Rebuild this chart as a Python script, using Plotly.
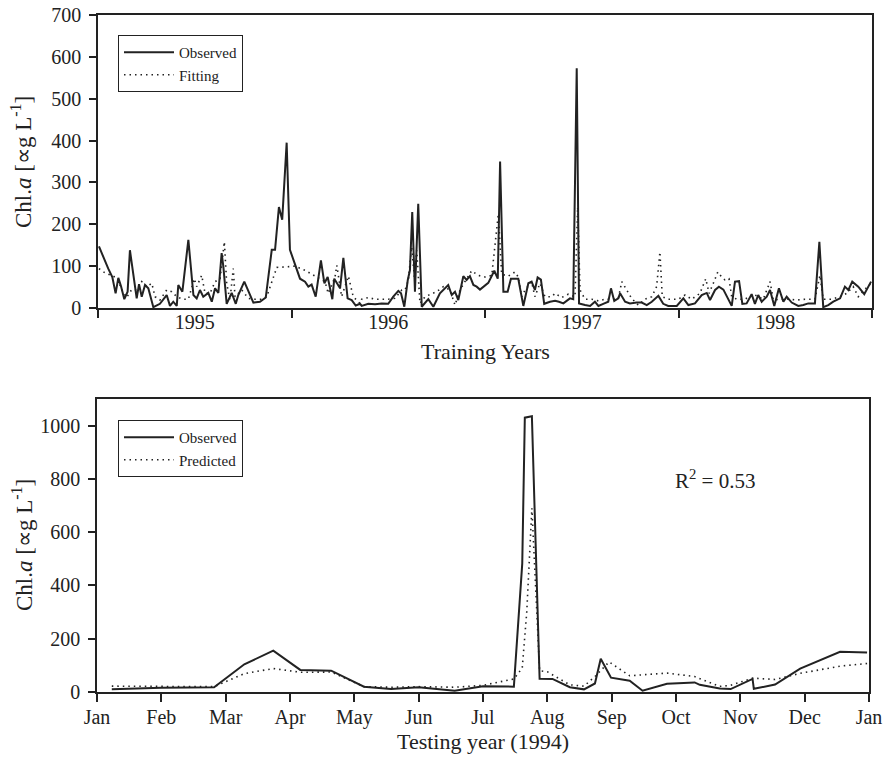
import plotly.graph_objects as go

# ---------------- data: training period (decimal years) ----------------
train_obs_t = [1994.505, 1994.527, 1994.553, 1994.574, 1994.591, 1994.605, 1994.619, 1994.636, 1994.653, 1994.665,
               1994.700, 1994.712, 1994.726, 1994.743, 1994.760, 1994.786, 1994.820, 1994.855, 1994.872, 1994.889,
               1994.907, 1994.915, 1994.936, 1994.967, 1994.993, 1995.010, 1995.027, 1995.044, 1995.070, 1995.088,
               1995.105, 1995.122, 1995.139, 1995.148, 1995.165, 1995.191, 1995.212, 1995.225, 1995.256, 1995.303,
               1995.337, 1995.367, 1995.398, 1995.415, 1995.435, 1995.452, 1995.475, 1995.492, 1995.518, 1995.544,
               1995.570, 1995.587, 1995.604, 1995.625, 1995.652, 1995.670, 1995.687, 1995.711, 1995.721, 1995.751,
               1995.768, 1995.790, 1995.811, 1995.832, 1995.854, 1995.863, 1995.897, 1995.932, 1995.966, 1996.000,
               1996.026, 1996.052, 1996.066, 1996.083, 1996.101, 1996.112, 1996.124, 1996.138, 1996.155, 1996.173,
               1996.207, 1996.233, 1996.267, 1996.310, 1996.328, 1996.345, 1996.362, 1996.388, 1996.405, 1996.422,
               1996.440, 1996.457, 1996.474, 1996.517, 1996.548, 1996.566, 1996.578, 1996.595, 1996.617, 1996.634,
               1996.672, 1996.698, 1996.724, 1996.741, 1996.758, 1996.772, 1996.789, 1996.806, 1996.836, 1996.862,
               1996.882, 1996.905, 1996.939, 1996.956, 1996.974, 1996.986, 1997.017, 1997.043, 1997.068, 1997.086,
               1997.111, 1997.137, 1997.151, 1997.168, 1997.189, 1997.198, 1997.224, 1997.249, 1997.284, 1997.310,
               1997.336, 1997.362, 1997.396, 1997.421, 1997.447, 1997.491, 1997.525, 1997.551, 1997.585, 1997.620,
               1997.646, 1997.663, 1997.689, 1997.709, 1997.732, 1997.757, 1997.775, 1997.792, 1997.813, 1997.830,
               1997.852, 1997.878, 1997.895, 1997.912, 1997.930, 1997.956, 1997.973, 1997.995, 1998.019, 1998.042,
               1998.059, 1998.085, 1998.119, 1998.145, 1998.171, 1998.205, 1998.228, 1998.248, 1998.274, 1998.300,
               1998.335, 1998.360, 1998.378, 1998.398, 1998.429, 1998.460, 1998.495]
train_obs_v = [147, 122, 94, 74, 35, 72, 52, 21, 39, 138,
               23, 57, 27, 55, 47, 2, 10, 31, 5, 15,
               5, 55, 39, 163, 31, 23, 43, 27, 36, 15,
               47, 36, 131, 98, 10, 36, 10, 31, 63, 13,
               15, 25, 139, 139, 241, 211, 395, 139, 106, 70,
               63, 51, 56, 27, 114, 59, 74, 21, 70, 47,
               120, 23, 19, 6, 10, 5, 10, 9, 11, 10,
               27, 41, 35, 3, 67, 90, 229, 39, 249, 3,
               21, 3, 35, 55, 31, 39, 19, 76, 67, 76,
               55, 51, 44, 60, 89, 70, 350, 39, 39, 70,
               70, 5, 59, 63, 43, 73, 68, 10, 15, 17,
               15, 11, 23, 21, 573, 11, 7, 5, 15, 5,
               10, 15, 47, 17, 23, 35, 15, 11, 13, 13,
               7, 15, 29, 10, 5, 5, 23, 7, 11, 31,
               36, 19, 43, 51, 44, 23, 5, 63, 64, 10,
               11, 33, 10, 31, 15, 27, 43, 5, 47, 15,
               27, 13, 5, 7, 11, 11, 158, 2, 7, 15,
               23, 51, 43, 63, 51, 33, 63]

train_fit_t = [1994.505, 1994.536, 1994.579, 1994.602, 1994.622, 1994.648, 1994.674, 1994.700, 1994.726, 1994.752,
               1994.778, 1994.795, 1994.820, 1994.855, 1994.881, 1994.907, 1994.936, 1994.967, 1994.998, 1995.010,
               1995.036, 1995.053, 1995.079, 1995.105, 1995.131, 1995.153, 1995.165, 1995.182, 1995.199, 1995.208,
               1995.243, 1995.277, 1995.311, 1995.346, 1995.372, 1995.398, 1995.424, 1995.466, 1995.518, 1995.570,
               1995.621, 1995.673, 1995.690, 1995.725, 1995.734, 1995.759, 1995.794, 1995.819, 1995.854, 1995.863,
               1995.897, 1995.932, 1995.966, 1996.000, 1996.035, 1996.070, 1996.087, 1996.104, 1996.121, 1996.135,
               1996.147, 1996.164, 1996.190, 1996.216, 1996.250, 1996.285, 1996.319, 1996.345, 1996.371, 1996.405,
               1996.431, 1996.465, 1996.500, 1996.535, 1996.569, 1996.586, 1996.620, 1996.655, 1996.672, 1996.690,
               1996.707, 1996.741, 1996.758, 1996.784, 1996.810, 1996.845, 1996.862, 1996.896, 1996.931, 1996.965,
               1996.979, 1996.991, 1997.017, 1997.051, 1997.086, 1997.120, 1997.155, 1997.189, 1997.207, 1997.258,
               1997.292, 1997.327, 1997.362, 1997.387, 1997.404, 1997.416, 1997.447, 1997.499, 1997.534, 1997.568,
               1997.611, 1997.641, 1997.658, 1997.680, 1997.703, 1997.720, 1997.740, 1997.761, 1997.775, 1997.801,
               1997.844, 1997.887, 1997.912, 1997.938, 1997.973, 1997.990, 1998.025, 1998.067, 1998.111, 1998.154,
               1998.205, 1998.231, 1998.248, 1998.292, 1998.335, 1998.369, 1998.403, 1998.429, 1998.460, 1998.495]
train_fit_v = [94, 84, 76, 70, 44, 25, 44, 43, 63, 51,
               59, 27, 19, 43, 39, 27, 21, 21, 70, 51,
               78, 35, 35, 63, 70, 158, 59, 19, 94, 27,
               43, 23, 21, 21, 27, 63, 97, 98, 100, 90,
               76, 63, 35, 74, 102, 27, 76, 27, 11, 21,
               25, 21, 21, 21, 23, 43, 43, 67, 146, 74,
               138, 11, 27, 33, 39, 51, 43, 7, 43, 70,
               89, 78, 74, 78, 225, 81, 76, 86, 74, 27,
               43, 63, 27, 59, 27, 27, 35, 25, 33, 27,
               241, 43, 21, 21, 17, 21, 21, 23, 63, 23,
               7, 21, 27, 51, 134, 27, 21, 21, 31, 21,
               35, 70, 35, 59, 86, 76, 67, 70, 27, 21,
               21, 33, 27, 21, 63, 19, 21, 21, 19, 21,
               21, 78, 21, 21, 27, 35, 51, 27, 43, 59]

train_year_labels = ["1995", "1996", "1997", "1998"]
train_year_pos = [1995, 1996, 1997, 1998]
train_tick_pos = [1994.5, 1995.5, 1996.5, 1997.5, 1998.5]

# ---------------- data: testing year 1994 (month index, 0 = Jan 1) ----------------
test_obs_m = [0.23, 1.0, 1.82, 2.29, 2.74, 3.16, 3.64, 4.15, 4.57, 5.0, 5.56, 6.0, 6.48, 6.61, 6.65, 6.76, 6.88,
              7.08, 7.35, 7.57, 7.74, 7.83, 7.99, 8.28, 8.48, 8.86, 9.29, 9.37, 9.68, 9.85, 10.19, 10.21,
              10.54, 10.93, 11.55, 11.97]
test_obs_v = [10, 16, 18, 104, 155, 83, 80, 20, 11, 18, 5, 22, 20, 482, 1030, 1035, 50,
              49, 18, 10, 32, 125, 54, 42, 5, 31, 36, 27, 13, 11, 49, 12,
              28, 88, 151, 148]
test_pred_m = [0.23, 1.0, 1.82, 2.29, 2.74, 3.16, 3.64, 4.15, 4.57, 5.0, 5.56, 6.0, 6.48, 6.61, 6.68, 6.76,
               6.88, 7.0, 7.35, 7.57, 7.74, 7.96, 8.28, 8.86, 9.29, 9.68, 9.85, 10.19, 10.54, 10.93, 11.55, 11.97]
test_pred_v = [22, 20, 20, 69, 88, 74, 75, 20, 18, 20, 18, 25, 49, 90, 300, 690,
               80, 76, 27, 22, 58, 113, 61, 71, 58, 21, 25, 52, 47, 70, 97, 107]
month_labels = ["Jan", "Feb", "Mar", "Apr", "May", "Jun", "Jul", "Aug", "Sep", "Oct", "Nov", "Dec", "Jan"]
month_pos = list(range(13))
r2_text = "R<sup>2</sup> = 0.53"

# ---------------- styling ----------------
FONT = "Liberation Serif, Times New Roman, serif"
INK = "#222222"
W, H = 884, 769
L, R, T, B = 97, 12, 15, 77
pw, ph = W - L - R, H - T - B


def px_x(x):
    return (x - L) / pw


def px_y(y):
    return (H - B - y) / ph


obs_line = dict(color=INK, width=2)
fit_line = dict(color=INK, width=1.6, dash="1.5px,4px")

fig = go.Figure()
fig.add_trace(go.Scatter(x=train_obs_t, y=train_obs_v, mode="lines", name="Observed",
                         line=obs_line, xaxis="x", yaxis="y", legend="legend"))
fig.add_trace(go.Scatter(x=train_fit_t, y=train_fit_v, mode="lines", name="Fitting",
                         line=fit_line, xaxis="x", yaxis="y", legend="legend"))
fig.add_trace(go.Scatter(x=test_obs_m, y=test_obs_v, mode="lines", name="Observed",
                         line=obs_line, xaxis="x2", yaxis="y2", legend="legend2"))
fig.add_trace(go.Scatter(x=test_pred_m, y=test_pred_v, mode="lines", name="Predicted",
                         line=fit_line, xaxis="x2", yaxis="y2", legend="legend2"))

axis_common = dict(showline=True, linecolor=INK, linewidth=1.5, mirror=True, showgrid=False,
                   zeroline=False, automargin=False, tickfont=dict(family=FONT, size=20, color=INK),
                   tickcolor=INK, tickwidth=1.5)

top_dom = [px_y(308), px_y(15)]
bot_dom = [px_y(692), px_y(399)]

legend_common = dict(xanchor="left", yanchor="top", bgcolor="white", bordercolor=INK, borderwidth=1,
                     font=dict(family=FONT, size=15, color=INK), tracegroupgap=0, itemwidth=50)

fig.update_layout(
    width=W, height=H, margin=dict(l=L, r=R, t=T, b=B, autoexpand=False),
    paper_bgcolor="white", plot_bgcolor="white",
    font=dict(family=FONT, color=INK),
    xaxis=dict(axis_common, domain=[px_x(98), px_x(872)], anchor="y", range=[1994.5, 1998.5],
               tickmode="array", tickvals=train_year_pos, ticktext=train_year_labels, ticks="",
               ticklen=0, ticklabelstandoff=-5,
               minor=dict(tickmode="array", tickvals=train_tick_pos, ticks="outside", ticklen=8,
                          tickwidth=1.5, tickcolor=INK, showgrid=False)),
    yaxis=dict(axis_common, domain=top_dom, anchor="x", range=[0, 700], tickvals=list(range(0, 701, 100)),
               ticks="outside", ticklen=7, ticklabelstandoff=4),
    xaxis2=dict(axis_common, domain=[px_x(97), px_x(869)], anchor="y2", range=[0, 12],
                tickmode="array", tickvals=month_pos, ticktext=month_labels, ticks="outside", ticklen=8,
                ticklabelstandoff=-2),
    yaxis2=dict(axis_common, domain=bot_dom, anchor="x2", range=[0, 1100],
                tickvals=list(range(0, 1001, 200)), ticks="outside", ticklen=7, ticklabelstandoff=4),
    legend=dict(legend_common, x=px_x(118), y=px_y(35)),
    legend2=dict(legend_common, x=px_x(118), y=px_y(420)),
    showlegend=True,
)

ann_font = dict(family=FONT, size=22, color=INK)
fig.add_annotation(text="Training Years", xref="paper", yref="paper", x=px_x(485), y=px_y(352),
                   xanchor="center", yanchor="middle", showarrow=False, font=ann_font)
fig.add_annotation(text="Testing year (1994)", xref="paper", yref="paper", x=px_x(483), y=px_y(741),
                   xanchor="center", yanchor="middle", showarrow=False, font=ann_font)
ytitle = "Chl.<i>a</i> [\u221dg L<sup>-1</sup>]"
fig.add_annotation(text=ytitle, xref="paper", yref="paper", x=px_x(22), y=px_y(162),
                   xanchor="center", yanchor="middle", textangle=-90, showarrow=False,
                   font=dict(ann_font, size=23))
fig.add_annotation(text=ytitle, xref="paper", yref="paper", x=px_x(22), y=px_y(545),
                   xanchor="center", yanchor="middle", textangle=-90, showarrow=False,
                   font=dict(ann_font, size=23))
fig.add_annotation(text=r2_text, xref="paper", yref="paper", x=px_x(715), y=px_y(479),
                   xanchor="center", yanchor="middle", showarrow=False, font=dict(ann_font, size=21))

fig.write_html("out.html")
